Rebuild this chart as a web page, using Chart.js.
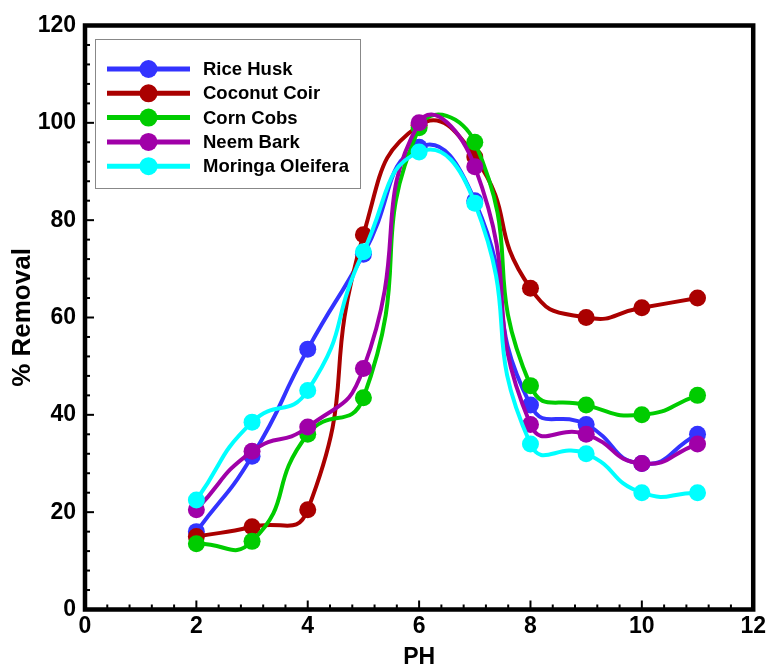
<!DOCTYPE html>
<html>
<head>
<meta charset="utf-8">
<script src="https://cdn.jsdelivr.net/npm/chart.js@4/dist/chart.umd.min.js"></script>
<style>
  html, body { margin: 0; padding: 0; background: #fff; }
  #wrap { width: 769px; height: 671px; position: relative; }
</style>
</head>
<body>
<div id="wrap"><canvas id="c" width="769" height="671"></canvas></div>
<script>
const phValues = [2, 3, 4, 5, 6, 7, 8, 9, 10, 11];
const riceHusk = [16, 31.5, 53.5, 73, 95, 84, 42, 38, 30, 36];
const coconutCoir = [15, 17, 20.5, 77, 99.5, 93, 66, 60, 62, 64];
const cornCobs = [13.5, 14, 36, 43.5, 99, 96, 46, 42, 40, 44];
const neemBark = [20.5, 32.5, 37.5, 49.5, 100, 91, 38, 36, 30, 34];
const moringaOleifera = [22.5, 38.5, 45, 73.5, 94, 83.5, 34, 32, 24, 24];
const seriesNames = ['Rice Husk', 'Coconut Coir', 'Corn Cobs', 'Neem Bark', 'Moringa Oleifera'];
const seriesColors = ['#3333FF', '#AA0000', '#00CC00', '#A000A8', '#00FFFF'];
const xTickValues = [0, 2, 4, 6, 8, 10, 12];
const yTickValues = [0, 20, 40, 60, 80, 100, 120];

const seriesData = [riceHusk, coconutCoir, cornCobs, neemBark, moringaOleifera];
const datasets = seriesData.map((vals, i) => ({
  label: seriesNames[i],
  data: phValues.map((x, j) => ({ x: x, y: vals[j] })),
  borderColor: seriesColors[i],
  backgroundColor: seriesColors[i],
  pointBackgroundColor: seriesColors[i],
  pointBorderWidth: 0,
  pointRadius: 8.5,
  borderWidth: 4,
  tension: 0.55,
  order: seriesNames.length - i,
  fill: false
}));

const FONT = "'Liberation Sans', Arial, sans-serif";

const framePlugin = {
  id: 'frame',
  afterDatasetsDraw(chart) {
    const ctx = chart.ctx;
    const a = chart.chartArea;
    const xs = chart.scales.x, ys = chart.scales.y;
    ctx.save();
    ctx.strokeStyle = '#000';
    ctx.lineWidth = 2;
    for (let v = 0; v <= 12.0001; v += 0.4) {
      const px = xs.getPixelForValue(v);
      const major = Math.abs(v / 2 - Math.round(v / 2)) < 1e-6;
      const len = major ? 9 : 5;
      ctx.beginPath();
      ctx.moveTo(px, a.bottom);
      ctx.lineTo(px, a.bottom - len);
      ctx.stroke();
    }
    for (let v = 0; v <= 120.0001; v += 4) {
      const py = ys.getPixelForValue(v);
      const major = Math.abs(v / 20 - Math.round(v / 20)) < 1e-6;
      const len = major ? 9 : 5;
      ctx.beginPath();
      ctx.moveTo(a.left, py);
      ctx.lineTo(a.left + len, py);
      ctx.stroke();
    }
    ctx.lineWidth = 4.5;
    ctx.strokeRect(a.left, a.top, a.right - a.left, a.bottom - a.top);

    // legend box
    const bx = 95, by = 39, bw = 265, bh = 149;
    ctx.fillStyle = '#fff';
    ctx.fillRect(bx, by, bw, bh);
    ctx.lineWidth = 1;
    ctx.strokeStyle = '#888';
    ctx.strokeRect(bx + 0.5, by + 0.5, bw, bh);
    const rowY0 = 69, rowStep = 24.3;
    ctx.font = 'bold 18.5px ' + FONT;
    ctx.textBaseline = 'middle';
    ctx.textAlign = 'left';
    chart.data.datasets.forEach((ds, i) => {
      const y = rowY0 + i * rowStep;
      ctx.strokeStyle = ds.borderColor;
      ctx.lineWidth = 5;
      ctx.beginPath();
      ctx.moveTo(107, y);
      ctx.lineTo(190, y);
      ctx.stroke();
      ctx.fillStyle = ds.borderColor;
      ctx.beginPath();
      ctx.arc(148.5, y, 9, 0, Math.PI * 2);
      ctx.fill();
      ctx.fillStyle = '#000';
      ctx.fillText(ds.label, 203, y + 1);
    });
    ctx.restore();
  }
};

new Chart(document.getElementById('c'), {
  type: 'line',
  data: { datasets: datasets },
  options: {
    responsive: false,
    animation: false,
    events: [],
    layout: { padding: { left: 0, top: 25.5, right: 13, bottom: 0 } },
    plugins: { legend: { display: false }, tooltip: { enabled: false } },
    scales: {
      x: {
        type: 'linear',
        min: 0, max: 12,
        afterBuildTicks(scale) { scale.ticks = xTickValues.map(v => ({ value: v })); },
        afterFit(scale) { scale.height = 61.5; },
        grid: { display: false, drawTicks: false },
        border: { display: false },
        ticks: { color: '#000', font: { family: FONT, size: 23, weight: 'bold' }, padding: 3, maxRotation: 0, autoSkip: false },
        title: { display: true, text: 'PH', color: '#000', font: { family: FONT, size: 23, weight: 'bold' }, padding: { top: 0, bottom: 0 } }
      },
      y: {
        type: 'linear',
        min: 0, max: 120,
        afterBuildTicks(scale) { scale.ticks = yTickValues.map(v => ({ value: v })); },
        afterFit(scale) { scale.width = 85; },
        grid: { display: false, drawTicks: false },
        border: { display: false },
        ticks: { color: '#000', font: { family: FONT, size: 23, weight: 'bold' }, padding: 9, autoSkip: false },
        title: { display: true, text: '% Removal', color: '#000', font: { family: FONT, size: 26, weight: 'bold' }, padding: { top: 7, bottom: 0 } }
      }
    }
  },
  plugins: [framePlugin]
});
</script>
</body>
</html>
